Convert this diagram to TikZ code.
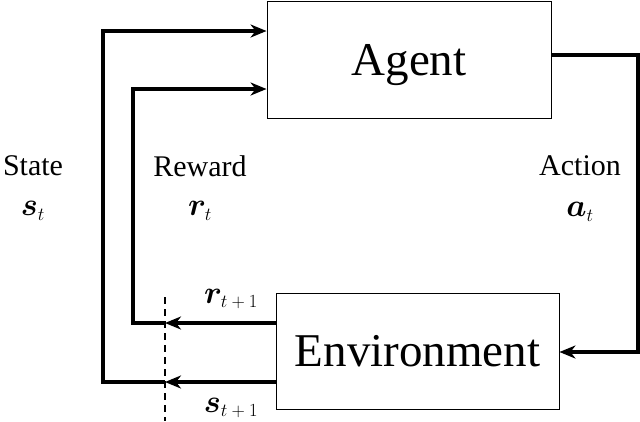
\RequirePackage{fix-cm}
\documentclass[tikz,border=0pt]{standalone}
\usepackage[no-math]{fontspec}
\usepackage{bm}
\setmainfont{Liberation Serif}
\usetikzlibrary{arrows.meta,calc}
\newcommand\mysub[1]{\mbox{\fontsize{18.5bp}{18.5bp}\selectfont$#1$}}
\begin{document}
\begin{tikzpicture}[x=1bp,y=-1bp,
  box/.style={draw,line width=0.9bp,inner sep=0pt},
  big/.style={font=\fontsize{47bp}{50bp}\selectfont,text height=31bp,text depth=0pt},
  lab/.style={font=\fontsize{30bp}{32bp}\selectfont,inner sep=0pt},
  mlab/.style={font=\fontsize{32bp}{34bp}\selectfont,inner sep=0pt},
  flow/.style={line width=3.6bp,-{Stealth[length=16bp,width=13bp,inset=5bp]}}]
\useasboundingbox (0,0) rectangle (640,421);
\node[box,big,minimum width=284bp,minimum height=117bp] (agent) at (409,59.5) {Agent};
\node[box,big,minimum width=283bp,minimum height=116bp] (env) at (417.5,351) {Environment};
\coordinate (dtop) at (165,297);
\coordinate (dbot) at (165,421);
\draw[line width=1.2bp,dash pattern=on 7bp off 5bp] (dtop) -- (dbot);
% reward
\coordinate (rd) at (165,323);
\coordinate (rl) at (133,323);
\draw[flow] (env.west |- rd) -- (rd);
\draw[flow] (rd) -- (rl) -- (133,89) -- (agent.west |- 0,89);
% state
\coordinate (sd) at (165,382);
\coordinate (sl) at (103,382);
\draw[flow] (env.west |- sd) -- (sd);
\draw[flow] (sd) -- (sl) -- (103,31) -- (agent.west |- 0,31);
% action
\draw[flow] (agent.east |- 0,55) -- (638,55) -- (638,352) -- (env.east |- 0,352);
% labels
\node[lab] (lstate) at (33,166) {State};
\node[mlab] (lst) at (33,211) {$\bm{s}_{\mysub{t}}$};
\node[lab] (lrew) at (200,166) {Reward};
\node[mlab] (lrt) at (200,211) {$\bm{r}_{\mysub{t}}$};
\node[lab] (lact) at (580,166) {Action};
\node[mlab] (lat) at (580,212) {$\bm{a}_{\mysub{t}}$};
\node[mlab] (lr1) at (231,299) {$\bm{r}_{\mysub{t+1}}$};
\node[mlab] (ls1) at (231,408) {$\bm{s}_{\mysub{t+1}}$};
\end{tikzpicture}
\end{document}
